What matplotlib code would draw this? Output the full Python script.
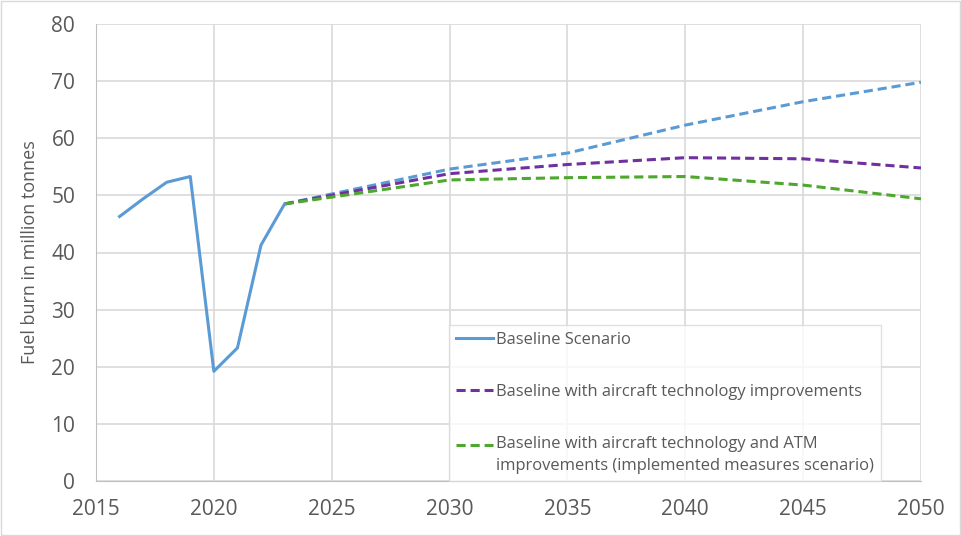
import matplotlib
matplotlib.use("Agg")
import matplotlib.pyplot as plt
from matplotlib.patches import Rectangle
from matplotlib.legend_handler import HandlerLine2D

hist_years = [2016, 2017, 2018, 2019, 2020, 2021, 2022, 2023]
hist_vals = [46.3, 49.4, 52.3, 53.3, 19.2, 23.3, 41.3, 48.5]

proj_years = [2023, 2030, 2035, 2040, 2045, 2050]
baseline_proj = [48.5, 54.6, 57.4, 62.3, 66.4, 69.8]
tech_proj = [48.5, 53.8, 55.4, 56.6, 56.4, 54.8]
atm_proj = [48.5, 52.7, 53.1, 53.3, 51.8, 49.4]

xticks = [2015, 2020, 2025, 2030, 2035, 2040, 2045, 2050]
yticks = [0, 10, 20, 30, 40, 50, 60, 70, 80]

labels = ["Baseline Scenario",
          "Baseline with aircraft technology improvements",
          "Baseline with aircraft technology and ATM\nimprovements (implemented measures scenario)"]

BLUE = "#5B9BD5"
PURPLE = "#7030A0"
GREEN = "#4EA72E"
GRAY = "#595959"

plt.rcParams['font.family'] = ['Open Sans', 'DejaVu Sans']


class ShiftedHandler(HandlerLine2D):
    def __init__(self, dy=0.0, **kw):
        super().__init__(**kw)
        self.dy = dy

    def create_artists(self, legend, orig_handle, xdescent, ydescent, width, height, fontsize, trans):
        arts = super().create_artists(legend, orig_handle, xdescent, ydescent, width, height, fontsize, trans)
        for a in arts:
            a.set_ydata([y + self.dy for y in a.get_ydata()])
        return arts


fig = plt.figure(figsize=(9.61, 5.36), dpi=100)
ax = fig.add_axes([96/961, 1-481/536, (921-96)/961, (481-24)/536])

l1, = ax.plot(hist_years, hist_vals, color=BLUE, lw=2.2, label=labels[0], zorder=4)
ax.plot(proj_years, baseline_proj, color=BLUE, lw=2.2, ls=(0, (3, 1.6)), zorder=3)
l2, = ax.plot(proj_years, tech_proj, color=PURPLE, lw=2.2, ls=(0, (3, 1.6)), label=labels[1], zorder=3)
l3, = ax.plot(proj_years, atm_proj, color=GREEN, lw=2.2, ls=(0, (3, 1.6)), label=labels[2], zorder=3)

ax.set_xlim(2015, 2050)
ax.set_ylim(0, 80)
ax.set_xticks(xticks)
ax.set_yticks(yticks)
ax.grid(True, color="#D9D9D9", lw=1.2)
ax.set_axisbelow(True)
for s in ["top", "right"]:
    ax.spines[s].set_visible(False)
ax.spines["left"].set_color("#BFBFBF")
ax.spines["bottom"].set_color("#BFBFBF")
ax.tick_params(length=0, labelsize=15, labelcolor=GRAY)
ax.tick_params(axis="y", pad=15)
ax.tick_params(axis="x", pad=13)
ax.set_ylabel("Fuel burn in million tonnes", fontsize=13, color=GRAY, labelpad=9)

leg = ax.legend(handles=[l1, l2, l3], loc="upper left",
                bbox_to_anchor=((449-96)/825, (481-325)/457),
                fontsize=11.9, labelcolor=GRAY, frameon=True, fancybox=False,
                edgecolor="#D9D9D9", handlelength=2.25, handletextpad=0.2, labelspacing=2.2,
                borderaxespad=0, borderpad=0.4,
                handler_map={l3: ShiftedHandler(dy=7.8)})
leg.get_frame().set_linewidth(1.0)
leg.get_texts()[2].set_linespacing(1.5)

fig.patches.append(Rectangle((0.001, 0.001), 0.998, 0.998, transform=fig.transFigure,
                             fill=False, edgecolor="#D9D9D9", lw=1.0))
fig.savefig("out.png", dpi=100)
